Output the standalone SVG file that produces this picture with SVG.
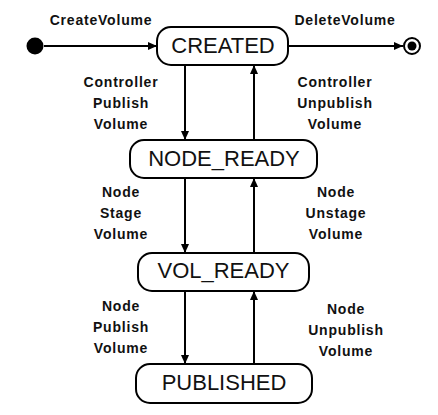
<svg xmlns="http://www.w3.org/2000/svg" width="438" height="415" viewBox="0 0 438 415">
<style>
.state rect{fill:#fff;stroke:#000;stroke-width:2}
.state text{font-family:"Liberation Sans",Arial,sans-serif;font-size:22px;text-anchor:middle;fill:#111}
.lbl{font-family:"Liberation Sans",Arial,sans-serif;font-size:14px;font-weight:bold;text-anchor:middle;fill:#111;letter-spacing:0.8px}
.edge{stroke:#000;stroke-width:2;fill:none;marker-end:url(#arr)}
</style>
<defs>
<marker id="arr" markerUnits="userSpaceOnUse" markerWidth="10" markerHeight="10" refX="9" refY="5" orient="auto">
<path d="M0,1 L9,5 L0,9 Z" fill="#000"/>
</marker>
</defs>
<rect width="438" height="415" fill="#fff"/>
<g id="connectors">
<path class="edge" d="M44,46 H157"/>
<path class="edge" d="M288,46 H403"/>
<path class="edge" d="M185,65 V140"/>
<path class="edge" d="M254,140 V65"/>
<path class="edge" d="M185,178 V253"/>
<path class="edge" d="M254,253 V178"/>
<path class="edge" d="M185,291 V364"/>
<path class="edge" d="M254,364 V291"/>
</g>
<g id="start"><circle cx="35" cy="46" r="8.5" fill="#000"/></g>
<g id="end"><circle cx="412" cy="46" r="8" fill="#fff" stroke="#000" stroke-width="2"/><circle cx="412" cy="46" r="4.5" fill="#000"/></g>
<g id="CREATED" class="state"><rect x="157" y="27" width="131" height="38" rx="14"/><text x="223" y="53">CREATED</text></g>
<g id="NODE_READY" class="state"><rect x="130" y="140" width="187" height="38" rx="14"/><text x="224" y="166">NODE_READY</text></g>
<g id="VOL_READY" class="state"><rect x="138" y="253" width="171" height="38" rx="14"/><text x="223.5" y="278">VOL_READY</text></g>
<g id="PUBLISHED" class="state"><rect x="136" y="364" width="176" height="39" rx="14"/><text x="224" y="390">PUBLISHED</text></g>
<g id="labels">
<text class="lbl" x="101" y="25">CreateVolume</text>
<text class="lbl" x="345" y="25">DeleteVolume</text>
<text class="lbl" x="121" y="87">Controller</text>
<text class="lbl" x="121" y="108">Publish</text>
<text class="lbl" x="121" y="129">Volume</text>
<text class="lbl" x="335" y="87">Controller</text>
<text class="lbl" x="335" y="108">Unpublish</text>
<text class="lbl" x="335" y="129">Volume</text>
<text class="lbl" x="121" y="197">Node</text>
<text class="lbl" x="121" y="218">Stage</text>
<text class="lbl" x="121" y="239">Volume</text>
<text class="lbl" x="336" y="197">Node</text>
<text class="lbl" x="336" y="218">Unstage</text>
<text class="lbl" x="336" y="239">Volume</text>
<text class="lbl" x="121" y="311">Node</text>
<text class="lbl" x="121" y="332">Publish</text>
<text class="lbl" x="121" y="353">Volume</text>
<text class="lbl" x="346" y="314">Node</text>
<text class="lbl" x="346" y="335">Unpublish</text>
<text class="lbl" x="346" y="356">Volume</text>
</g>
</svg>
